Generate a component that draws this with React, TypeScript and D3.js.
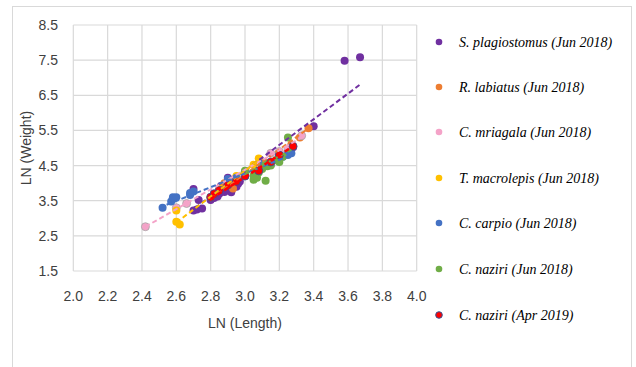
import { useEffect, useRef } from "react";
import * as d3 from "d3";

const W = 636;
const H = 367;

const xTicks = [2.0, 2.2, 2.4, 2.6, 2.8, 3.0, 3.2, 3.4, 3.6, 3.8, 4.0];
const yTicks = [1.5, 2.5, 3.5, 4.5, 5.5, 6.5, 7.5, 8.5];

const seriesNames = [
  "S. plagiostomus (Jun 2018)",
  "R. labiatus (Jun 2018)",
  "C. mriagala (Jun 2018)",
  "T. macrolepis (Jun 2018)",
  "C. carpio (Jun 2018)",
  "C. naziri (Jun 2018)",
  "C. naziri (Apr 2019)",
];
const seriesColors = ["#7030a0", "#ed7d31", "#f4a3c8", "#ffc000", "#4472c4", "#70ad47", "#ff0000"];
const seriesStroke = ["none", "none", "#a6a6a6", "none", "none", "none", "#2f5597"];

// [ln length, ln weight]
const plagiostomus: [number, number][] = [
  [3.58, 7.48], [3.67, 7.58], [3.40, 5.62], [2.70, 3.83], [2.72, 3.25], [2.75, 3.28],
  [2.70, 3.22], [2.73, 3.52], [2.82, 3.58], [2.85, 3.7], [2.88, 3.75], [2.9, 3.8],
  [2.92, 3.74], [2.95, 3.9], [2.97, 4.05], [2.86, 3.92], [2.9, 4.15], [2.93, 4.1],
  [2.8, 3.52], [3.1, 4.48], [3.15, 4.52], [3.25, 4.92], [3.28, 5.02], [3.2, 4.8],
  [3.0, 4.2], [2.84, 3.62], [2.96, 3.98],
];
const labiatus: [number, number][] = [
  [3.37, 5.56], [3.32, 5.3], [2.93, 3.85], [2.8, 3.6], [2.88, 4.0], [2.95, 4.1],
  [3.2, 4.85], [3.1, 4.45], [2.9, 4.05], [3.27, 5.1],
];
const mriagala: [number, number][] = [
  [2.42, 2.76], [2.6, 3.3], [2.66, 3.42], [3.2, 4.9], [3.15, 4.85], [3.33, 5.35],
  [3.0, 4.32], [2.9, 4.05], [3.1, 4.6], [3.25, 4.98],
];
const macrolepis: [number, number][] = [
  [2.6, 2.9], [2.62, 2.82], [2.6, 3.22], [3.08, 4.7], [3.0, 4.3], [2.95, 4.2],
  [2.85, 3.85], [3.05, 4.52],
];
const carpio: [number, number][] = [
  [2.52, 3.3], [2.57, 3.48], [2.58, 3.6], [2.6, 3.6], [2.68, 3.72], [2.7, 3.76],
  [2.68, 3.66], [3.25, 4.8], [3.27, 4.85], [3.22, 4.75], [3.1, 4.55], [2.95, 4.15],
  [2.9, 4.12],
];
const naziriJun: [number, number][] = [
  [3.05, 4.1], [3.07, 4.15], [3.05, 4.22], [3.12, 4.07], [3.1, 4.4], [3.15, 4.5],
  [3.2, 4.6], [3.25, 5.3], [3.22, 4.75], [3.18, 4.65], [3.12, 4.55], [3.08, 4.3],
  [3.0, 4.35], [3.13, 4.48],
];
const naziriApr: [number, number][] = [
  [2.8, 3.6], [2.85, 3.8], [2.9, 3.95], [2.95, 4.05], [3.0, 4.2], [3.08, 4.35],
  [3.15, 4.6], [3.2, 4.8], [3.28, 5.05], [2.82, 3.7],
];
const seriesData = [plagiostomus, labiatus, mriagala, macrolepis, carpio, naziriJun, naziriApr];

// linear trendlines: [x start, y start, x end, y end]
const trendlines: [number, number, number, number][] = [
  [2.71, 3.3, 3.68, 6.84],
  [2.8, 3.55, 3.37, 5.56],
  [2.42, 2.76, 3.33, 5.3],
  [2.6, 2.88, 3.08, 4.65],
  [2.5, 3.3, 3.27, 4.8],
  [3.0, 4.25, 3.27, 4.95],
  [2.8, 3.55, 3.28, 5.05],
];

const App = () => {
  const ref = useRef<SVGSVGElement | null>(null);

  useEffect(() => {
    const svg = d3.select(ref.current as SVGSVGElement);
    svg.selectAll("*").remove();

    const x = d3.scaleLinear().domain([2, 4]).range([73.3, 416.7]);
    const y = d3.scaleLinear().domain([1.5, 8.5]).range([271, 25]);

    // chart frame
    svg
      .append("rect")
      .attr("x", 12.5)
      .attr("y", 6.5)
      .attr("width", 619)
      .attr("height", 380)
      .attr("fill", "#fff")
      .attr("stroke", "#d9d9d9");

    const grid = svg.append("g").attr("stroke", "#d9d9d9").attr("stroke-width", 1.2);
    grid
      .selectAll(".gx")
      .data(xTicks)
      .join("line")
      .attr("x1", (d) => x(d))
      .attr("x2", (d) => x(d))
      .attr("y1", y(1.5))
      .attr("y2", y(8.5));
    grid
      .selectAll(".gy")
      .data(yTicks)
      .join("line")
      .attr("x1", x(2))
      .attr("x2", x(4))
      .attr("y1", (d) => y(d))
      .attr("y2", (d) => y(d));

    const font = "'Liberation Sans', Arial, sans-serif";
    svg
      .append("g")
      .selectAll("text")
      .data(yTicks)
      .join("text")
      .attr("x", 58)
      .attr("y", (d) => y(d) + 5)
      .attr("text-anchor", "end")
      .attr("font-family", font)
      .attr("font-size", 14)
      .attr("fill", "#404040")
      .text((d) => d.toFixed(1));
    svg
      .append("g")
      .selectAll("text")
      .data(xTicks)
      .join("text")
      .attr("x", (d) => x(d))
      .attr("y", 301)
      .attr("text-anchor", "middle")
      .attr("font-family", font)
      .attr("font-size", 14)
      .attr("fill", "#404040")
      .text((d) => d.toFixed(1));

    svg
      .append("text")
      .attr("x", 245)
      .attr("y", 328)
      .attr("text-anchor", "middle")
      .attr("font-family", font)
      .attr("font-size", 14)
      .attr("fill", "#404040")
      .text("LN (Length)");
    svg
      .append("text")
      .attr("transform", "translate(31,148) rotate(-90)")
      .attr("text-anchor", "middle")
      .attr("font-family", font)
      .attr("font-size", 14)
      .attr("fill", "#404040")
      .text("LN (Weight)");

    // points, then trendlines on top
    seriesData.forEach((pts, i) => {
      svg
        .append("g")
        .selectAll("circle")
        .data(pts)
        .join("circle")
        .attr("cx", (d) => x(d[0]))
        .attr("cy", (d) => y(d[1]))
        .attr("r", 4)
        .attr("fill", seriesColors[i])
        .attr("stroke", seriesStroke[i])
        .attr("stroke-width", 0.8);
    });

    const line = d3
      .line<[number, number]>()
      .x((d) => x(d[0]))
      .y((d) => y(d[1]));
    trendlines.forEach((t, i) => {
      svg
        .append("path")
        .attr("d", line([[t[0], t[1]], [t[2], t[3]]]))
        .attr("fill", "none")
        .attr("stroke", seriesColors[i])
        .attr("stroke-width", i === 6 ? 2.5 : 2)
        .attr("stroke-dasharray", "5,3");
    });

    // legend
    const legendY = [42, 87, 132, 178, 223, 269, 315];
    const leg = svg
      .append("g")
      .selectAll("g")
      .data(seriesNames)
      .join("g")
      .attr("transform", (_, i) => `translate(439,${legendY[i]})`);
    leg
      .append("circle")
      .attr("r", 3.3)
      .attr("fill", (_, i) => seriesColors[i])
      .attr("stroke", (_, i) => (i === 6 ? "#2f5597" : "none"))
      .attr("stroke-width", 1);
    leg
      .append("text")
      .attr("x", 20)
      .attr("y", 4.5)
      .attr("font-family", "'Liberation Serif', 'Times New Roman', serif")
      .attr("font-style", "italic")
      .attr("font-size", 14)
      .attr("fill", "#000")
      .text((d) => d);
  }, []);

  return (
    <div style={{ position: "fixed", left: 0, top: 0, width: W, height: H, background: "#fff" }}>
      <svg ref={ref} width={W} height={H}></svg>
    </div>
  );
};

export default App;
